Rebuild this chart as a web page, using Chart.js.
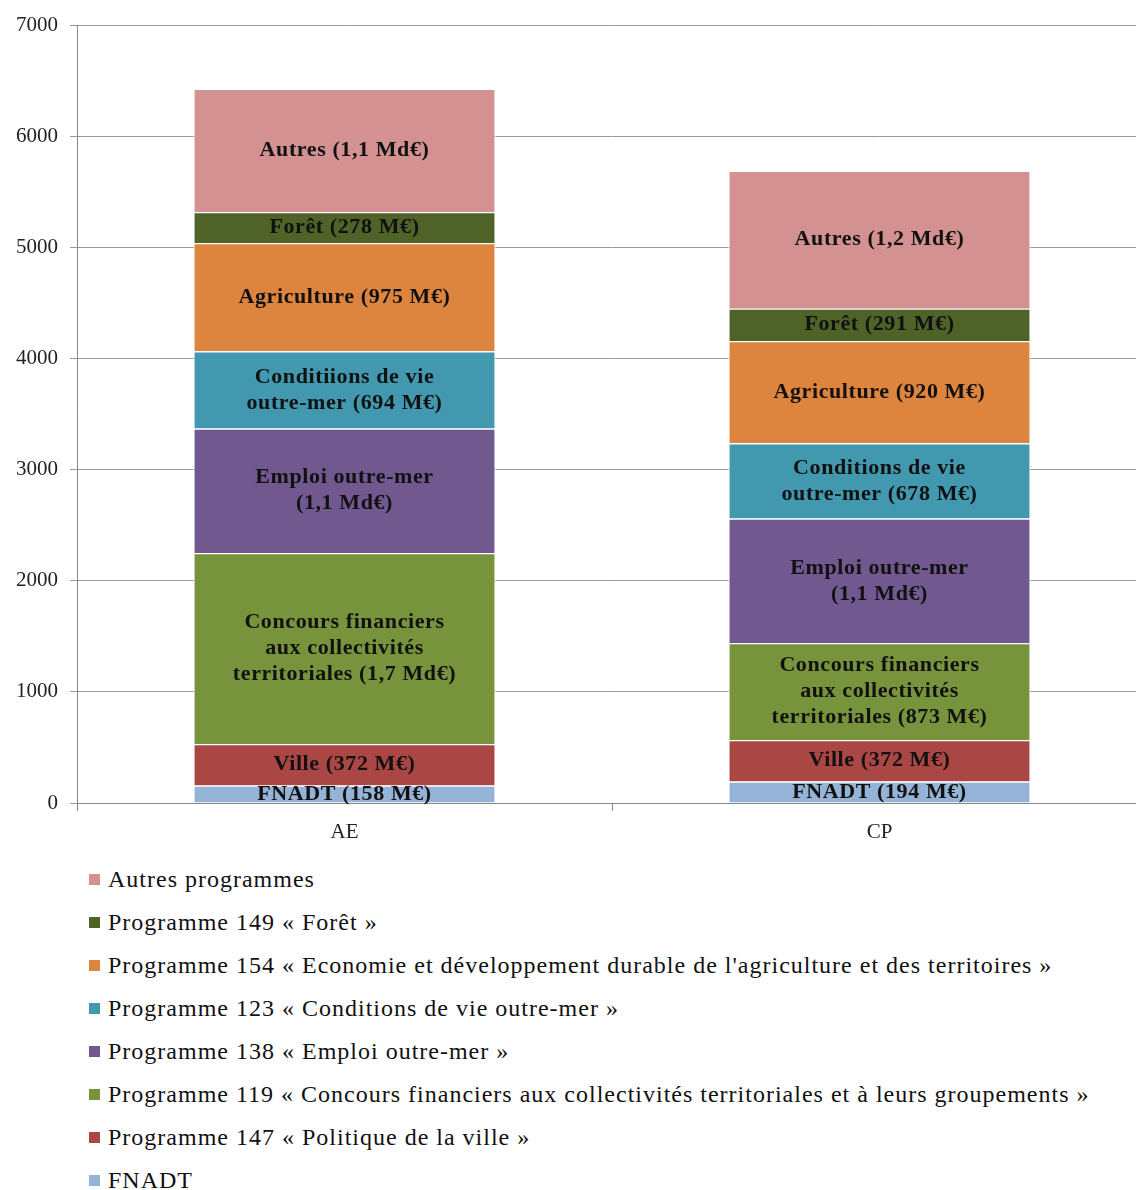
<!DOCTYPE html>
<html>
<head>
<meta charset="utf-8">
<script src="https://cdn.jsdelivr.net/npm/chart.js@4.4.0/dist/chart.umd.min.js"></script>
<style>
  body { margin: 0; background: #fff; overflow: hidden; width: 1136px; height: 1190px; position: relative; }
  #wrap { position: absolute; left: 0; top: 0; width: 1150px; height: 850px; }
  #legend { position: absolute; left: 89px; top: 858px; font-family: "Liberation Serif", serif; font-size: 24px; letter-spacing: 1px; color: #111; }
  .item { height: 43px; display: flex; align-items: center; }
  .box { width: 11px; height: 11px; margin-right: 8px; }
</style>
</head>
<body>
<div id="wrap"><canvas id="chart" width="1150" height="850"></canvas></div>
<div id="legend"></div>
<script>
const categories = ['AE', 'CP'];
const yTicks = [0, 1000, 2000, 3000, 4000, 5000, 6000, 7000];

// valeurs en M€, de bas en haut
const fnadt = [158, 194];
const ville = [372, 372];
const concours = [1720, 873];
const emploi = [1120, 1120];
const conditions = [694, 678];
const agriculture = [975, 920];
const foret = [278, 291];
const autres = [1110, 1240];

const seriesNames = [
    'FNADT',
    'Programme 147 « Politique de la ville »',
    'Programme 119 « Concours financiers aux collectivités territoriales et à leurs groupements »',
    'Programme 138 « Emploi outre-mer »',
    'Programme 123 « Conditions de vie outre-mer »',
    "Programme 154 « Economie et développement durable de l'agriculture et des territoires »",
    'Programme 149 « Forêt »',
    'Autres programmes'
];
const seriesColors = ['#95B3D7', '#AA4644', '#77933C', '#71588F', '#4198AF', '#DD843F', '#4F6228', '#D39191'];

const barLabels = [
    [['FNADT (158 M€)'], ['FNADT (194 M€)']],
    [['Ville (372 M€)'], ['Ville (372 M€)']],
    [['Concours financiers', 'aux collectivités', 'territoriales (1,7 Md€)'], ['Concours financiers', 'aux collectivités', 'territoriales (873 M€)']],
    [['Emploi outre-mer', '(1,1 Md€)'], ['Emploi outre-mer', '(1,1 Md€)']],
    [['Conditiions de vie', 'outre-mer (694 M€)'], ['Conditions de vie', 'outre-mer (678 M€)']],
    [['Agriculture (975 M€)'], ['Agriculture (920 M€)']],
    [['Forêt (278 M€)'], ['Forêt (291 M€)']],
    [['Autres (1,1 Md€)'], ['Autres (1,2 Md€)']]
];

const seriesValues = [fnadt, ville, concours, emploi, conditions, agriculture, foret, autres];

const datasets = seriesValues.map((data, i) => ({
    label: seriesNames[i],
    data,
    backgroundColor: seriesColors[i],
    borderColor: '#ffffff',
    borderWidth: 1.2,
    barPercentage: 0.565,
    categoryPercentage: 1,
}));

const segmentLabels = {
    id: 'segmentLabels',
    afterDatasetsDraw(chart) {
        const ctx = chart.ctx;
        ctx.save();
        ctx.font = 'bold 22px "Liberation Serif", serif';
        ctx.letterSpacing = '0.6px';
        ctx.fillStyle = '#111';
        ctx.textAlign = 'center';
        ctx.textBaseline = 'middle';
        chart.data.datasets.forEach((ds, i) => {
            chart.getDatasetMeta(i).data.forEach((bar, j) => {
                const lines = barLabels[i][j];
                const mid = (bar.y + bar.base) / 2;
                const lh = 26;
                const start = mid - (lines.length - 1) * lh / 2;
                lines.forEach((t, k) => ctx.fillText(t, bar.x, start + k * lh));
            });
        });
        ctx.restore();
    }
};

const chart = new Chart(document.getElementById('chart').getContext('2d'), {
    type: 'bar',
    data: { labels: categories, datasets },
    options: {
        responsive: false,
        animation: false,
        layout: { padding: { top: 25, right: 3, left: 0, bottom: 0 } },
        plugins: { legend: { display: false }, tooltip: { enabled: false } },
        scales: {
            x: {
                stacked: true,
                afterFit(scale) { scale.height = 47; },
                grid: { drawOnChartArea: false, drawTicks: true, tickLength: 8, color: '#888', offset: true },
                border: { color: '#888' },
                ticks: { color: '#222', padding: 9, font: { family: '"Liberation Serif", serif', size: 21 } }
            },
            y: {
                stacked: true,
                min: 0,
                max: 7000,
                afterFit(scale) { scale.width = 77; },
                afterBuildTicks(scale) { scale.ticks = yTicks.map(v => ({ value: v })); },
                grid: { color: '#999', tickLength: 7 },
                border: { color: '#888' },
                ticks: {
                    color: '#222',
                    padding: 12,
                    font: { family: '"Liberation Serif", serif', size: 21 },
                    callback: v => String(v)
                }
            }
        }
    },
    plugins: [segmentLabels]
});

const legend = document.getElementById('legend');
datasets.slice().reverse().forEach(ds => {
    const item = document.createElement('div');
    item.className = 'item';
    item.innerHTML = `<span class="box" style="background:${ds.backgroundColor}"></span><span>${ds.label}</span>`;
    legend.appendChild(item);
});
</script>
</body>
</html>
